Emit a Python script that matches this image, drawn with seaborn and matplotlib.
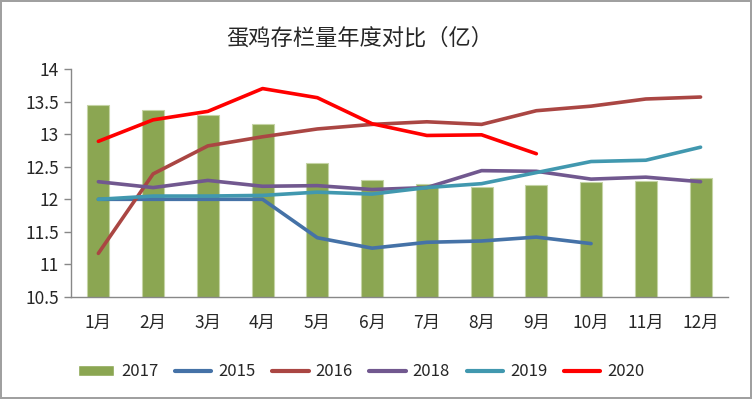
import matplotlib
matplotlib.use('Agg')
import matplotlib.pyplot as plt
from matplotlib.patches import Patch
from matplotlib.lines import Line2D
import pandas as pd
import seaborn as sns

months = ['1月', '2月', '3月', '4月', '5月', '6月', '7月', '8月', '9月', '10月', '11月', '12月']
y2017 = [13.45, 13.37, 13.29, 13.15, 12.55, 12.30, 12.24, 12.19, 12.22, 12.26, 12.28, 12.33]
y2015 = [12.00, 12.00, 12.00, 12.00, 11.41, 11.25, 11.34, 11.36, 11.42, 11.32]
y2016 = [11.17, 12.39, 12.82, 12.96, 13.08, 13.15, 13.19, 13.15, 13.36, 13.43, 13.54, 13.57]
y2018 = [12.27, 12.18, 12.29, 12.20, 12.21, 12.15, 12.18, 12.44, 12.43, 12.31, 12.34, 12.27]
y2019 = [12.00, 12.05, 12.05, 12.06, 12.11, 12.08, 12.18, 12.24, 12.41, 12.58, 12.60, 12.80]
y2020 = [12.89, 13.22, 13.35, 13.70, 13.56, 13.16, 12.98, 12.99, 12.70]

lines = {'2015': y2015, '2016': y2016, '2018': y2018, '2019': y2019, '2020': y2020}
colors = {'2015': '#4572A7', '2016': '#AA4643', '2018': '#71588F',
          '2019': '#4198AF', '2020': '#FF0000'}
bar_color = '#8BA652'

sns.set_style('white')
plt.rcParams['font.family'] = ['Noto Sans CJK SC', 'DejaVu Sans']

fig = plt.figure(figsize=(7.52, 3.99), dpi=100, linewidth=1.5, edgecolor='#A0A0A0')
ax = fig.add_axes([0.0944, 0.2556, 0.8736, 0.5714])

bars = pd.DataFrame({'month': months, 'value': y2017})
sns.barplot(data=bars, x='month', y='value', color=bar_color, width=0.4,
            saturation=1, edgecolor='#C5D4A5', linewidth=0.8, ax=ax)

rows = []
for year, vals in lines.items():
    for i, v in enumerate(vals):
        rows.append({'pos': i, 'value': v, 'year': year})
df = pd.DataFrame(rows)
sns.lineplot(data=df, x='pos', y='value', hue='year', palette=colors,
             linewidth=2.6, ax=ax, legend=False, sort=False)

ax.set_xlim(-0.5, 11.5)
ax.set_ylim(10.5, 14)
ax.set_yticks([10.5, 11, 11.5, 12, 12.5, 13, 13.5, 14])
ax.set_yticklabels(['10.5', '11', '11.5', '12', '12.5', '13', '13.5', '14'])
ax.set_xticks(range(12))
ax.set_xticklabels(months)
ax.set_xticks([i - 0.5 for i in range(13)], minor=True)
ax.tick_params(axis='x', which='major', length=0, pad=12, labelsize=12.5)
ax.tick_params(axis='x', which='minor', length=5, color='#888888', width=1)
ax.tick_params(axis='y', length=5, color='#888888', width=1, labelsize=12.5, left=True)
ax.set_xlabel('')
ax.set_ylabel('')
for s in ['top', 'right']:
    ax.spines[s].set_visible(False)
for s in ['left', 'bottom']:
    ax.spines[s].set_color('#888888')
    ax.spines[s].set_linewidth(1)

fig.text(0.478, 0.905, '蛋鸡存栏量年度对比（亿）', ha='center', va='center', fontsize=16)

handles = [Patch(facecolor=bar_color, label='2017')]
for year in lines:
    handles.append(Line2D([0], [0], color=colors[year], linewidth=3, label=year))
fig.legend(handles=handles, loc='center', bbox_to_anchor=(0.48, 0.068), ncol=6,
           frameon=False, fontsize=12, handlelength=2.2, columnspacing=1.0,
           handletextpad=0.4)

fig.savefig('out.png', dpi=100)
